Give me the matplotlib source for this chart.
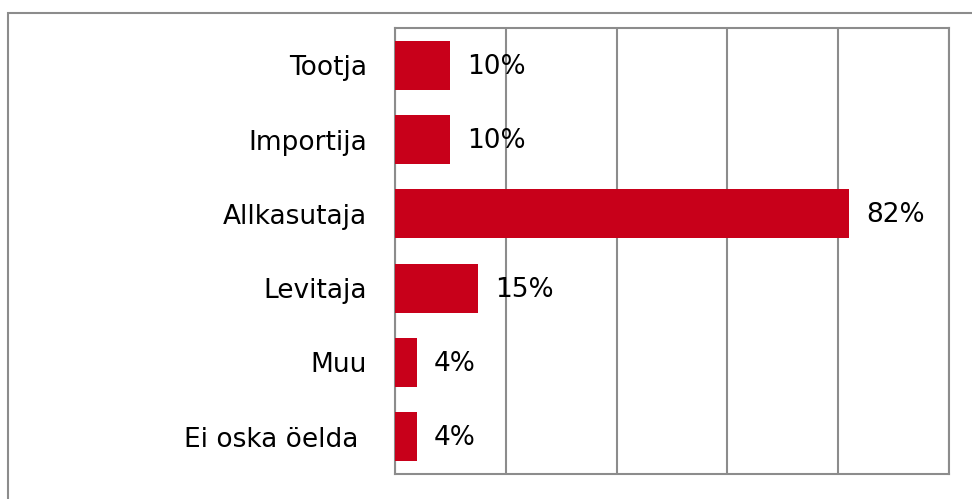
import matplotlib.pyplot as plt
from matplotlib.patches import Rectangle

plt.rcParams["font.family"] = ["DejaVu Sans"]

categories = ["Tootja", "Importija", "Allkasutaja", "Levitaja", "Muu", "Ei oska öelda "]
values = [10, 10, 82, 15, 4, 4]
value_labels = ["10%", "10%", "82%", "15%", "4%", "4%"]

grey = "#8c8c8c"
red = "#c8001a"

fig = plt.figure(figsize=(9.72, 4.99), dpi=100)
ax = fig.add_axes([395 / 972, 1 - 474 / 499, 554 / 972, 446 / 499])

# outer frame (only left and top visible, chart is cropped)
fig.patches.append(Rectangle((8 / 972, -0.1), 1.2, 1 - 13 / 499 + 0.1,
                             transform=fig.transFigure, fill=False,
                             edgecolor=grey, linewidth=1.5))

y = list(range(len(categories)))
ax.barh(y, values, height=0.66, color=red, zorder=3)
for yi, v, lab in zip(y, values, value_labels):
    ax.annotate(lab, (v, yi), xytext=(12, -1), textcoords="offset points",
                va="center", ha="left", fontsize=19, color="black", zorder=4)

ax.set_xlim(0, 100)
ax.set_ylim(len(categories) - 0.5, -0.5)
ax.set_xticks([0, 20, 40, 60, 80, 100])
ax.set_xticklabels([])
ax.tick_params(axis="x", length=0)
ax.set_yticks(y)
ax.set_yticklabels(categories, fontsize=19)
ax.tick_params(axis="y", length=0, pad=20)
ax.grid(axis="x", color=grey, linewidth=1.5, zorder=0)
for s in ax.spines.values():
    s.set_color(grey)
    s.set_linewidth(1.5)

fig.savefig("out.png", dpi=100)
